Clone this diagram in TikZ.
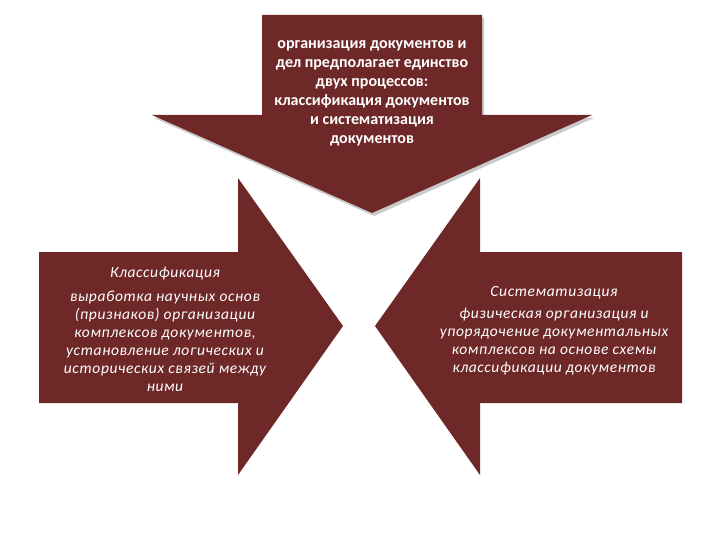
\documentclass[tikz,border=0pt]{standalone}
\usepackage{fontspec}
\setmainfont{Carlito}
\newfontfamily\sidefont[LetterSpace=4]{Carlito}
\usetikzlibrary{shadows}
\definecolor{maroon}{RGB}{110,40,40}
\begin{document}
\begin{tikzpicture}[x=1pt,y=-1pt]
\useasboundingbox (0,0) rectangle (720,540);
\tikzset{
  arrowshape/.style={fill=maroon},
  topshadow/.style={drop shadow={shadow xshift=2pt,shadow yshift=-3pt,opacity=0.35,fill=black!60}},
  toptext/.style={text=white,font=\bfseries\fontsize{16}{19}\selectfont,align=center},
  sidetext/.style={text=white,font=\sidefont\itshape\fontsize{15.5}{18}\selectfont,align=center}
}
% top arrow
\fill[arrowshape,topshadow] (262,15) -- (482,15) -- (482,115) -- (592,115) -- (372,213) -- (152,115) -- (262,115) -- cycle;
% left arrow
\fill[arrowshape] (39,252) -- (238,252) -- (238,178) -- (343,326) -- (238,475) -- (238,403) -- (39,403) -- cycle;
% right arrow
\fill[arrowshape] (682,252) -- (480,252) -- (480,178) -- (375,326) -- (480,475) -- (480,403) -- (682,403) -- cycle;
\node[toptext] (t) at (372,93) {организация документов и\\дел предполагает единство\\двух процессов:\\классификация документов\\и систематизация\\документов};
\node[sidetext] (l) at (165,329) {Классификация\\[6pt]выработка научных основ\\(признаков) организации\\комплексов документов,\\установление логических и\\исторических связей между\\ними};
\node[sidetext] (r) at (554,331) {Систематизация\\[4pt]физическая организация и\\упорядочение документальных\\комплексов на основе схемы\\классификации документов};
\end{tikzpicture}
\end{document}
